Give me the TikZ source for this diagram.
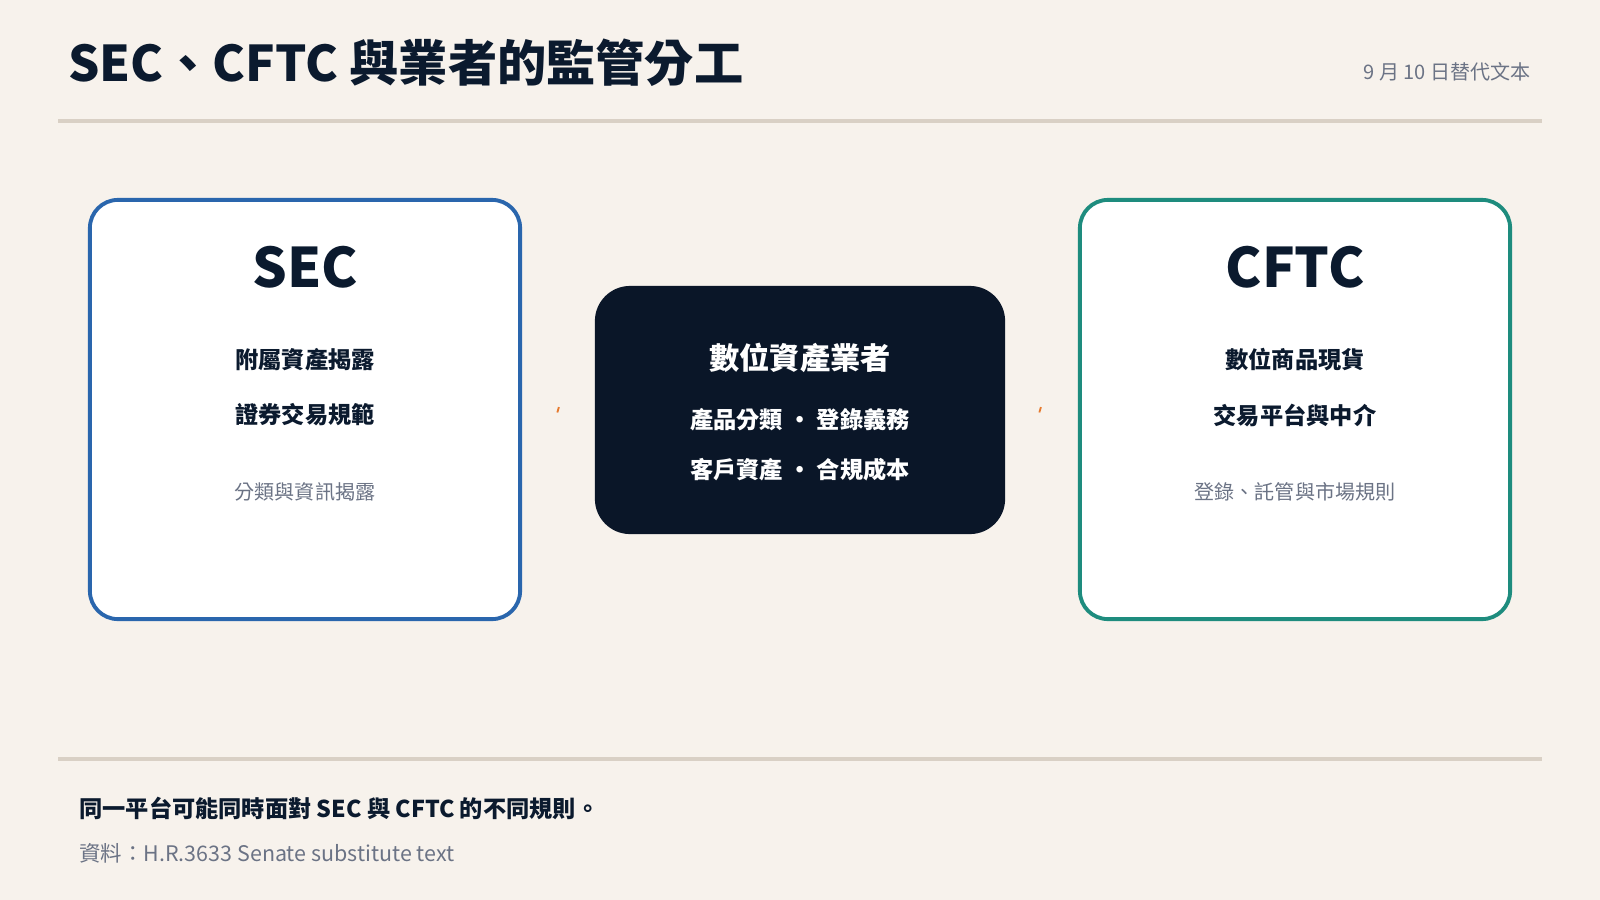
\documentclass[tikz,border=0pt]{standalone}
\usepackage{fontspec}
\setmainfont{Noto Sans CJK TC}
\usetikzlibrary{positioning}
\definecolor{bg}{HTML}{F7F2EC}
\definecolor{ink}{HTML}{0B1A2E}
\definecolor{navy}{HTML}{0A1628}
\definecolor{rulec}{HTML}{D9D0C5}
\definecolor{greyc}{HTML}{6B7385}
\definecolor{secblue}{HTML}{2A66AD}
\definecolor{cftcteal}{HTML}{1E8C7E}
\definecolor{linkc}{HTML}{E67A2E}
\tikzset{
  agency/.style={draw,line width=1.1pt,fill=white,rounded corners=8pt,minimum width=4.3cm,minimum height=4.19cm},
  head/.style={font=\fontsize{15.5}{18}\selectfont\bfseries,text=ink},
  duty/.style={font=\fontsize{6.6}{8}\selectfont\bfseries,text=ink},
  note/.style={font=\fontsize{5.7}{7}\selectfont,text=greyc},
  link/.style={linkc,line width=1.6pt}
}
\begin{document}
\begin{tikzpicture}[x=0.01cm,y=-0.01cm]
\useasboundingbox[fill=bg] (0,0) rectangle (1600,900);
% Title and rules
\node[anchor=west,font=\fontsize{14}{16}\selectfont\bfseries,text=ink] (title) at (56,63) {SEC、CFTC 與業者的監管分工};
\node[anchor=east,font=\fontsize{5.7}{7}\selectfont,text=greyc] (date) at (1543,72) {9 月 10 日替代文本};
\draw[rulec,line width=1.2pt] (58,121) -- (1542,121);
\draw[rulec,line width=1.2pt] (58,759) -- (1542,759);

% Agency boxes
\node[agency,draw=secblue] (sec) at (305,409.5) {};
\node[head] (sectitle) at (305,267) {SEC};
\node[duty] (sec1) at (305,360) {附屬資產揭露};
\node[duty] (sec2) at (305,415) {證券交易規範};
\node[note] (sec3) at (305,492) {分類與資訊揭露};

\node[agency,draw=cftcteal] (cftc) at (1295,409.5) {};
\node[head] (cftctitle) at (1295,267) {CFTC};
\node[duty] (cftc1) at (1295,360) {數位商品現貨};
\node[duty] (cftc2) at (1295,415) {交易平台與中介};
\node[note] (cftc3) at (1295,492) {登錄、託管與市場規則};

% Firms in the middle
\node[fill=navy,rounded corners=10pt,minimum width=4.1cm,minimum height=2.48cm] (firm) at (800,410) {};
\node[font=\fontsize{8.6}{10}\selectfont\bfseries,text=white] (firmtitle) at (800,358) {數位資產業者};
\node[duty,text=white] (firm1) at (800,420) {產品分類 ・ 登錄義務};
\node[duty,text=white] (firm2) at (800,470) {客戶資產 ・ 合規成本};

\draw[link] ([xshift=10]sec.east) -- ([xshift=-10]firm.west);
\draw[link] ([xshift=10]firm.east) -- ([xshift=-11]cftc.west);

% Footer
\node[anchor=west,duty] (foot) at (67,808) {同一平台可能同時面對 SEC 與 CFTC 的不同規則。};
\node[anchor=west,font=\fontsize{6.1}{7}\selectfont,text=greyc] (src) at (67,853) {資料：H.R.3633 Senate substitute text};
\end{tikzpicture}
\end{document}
